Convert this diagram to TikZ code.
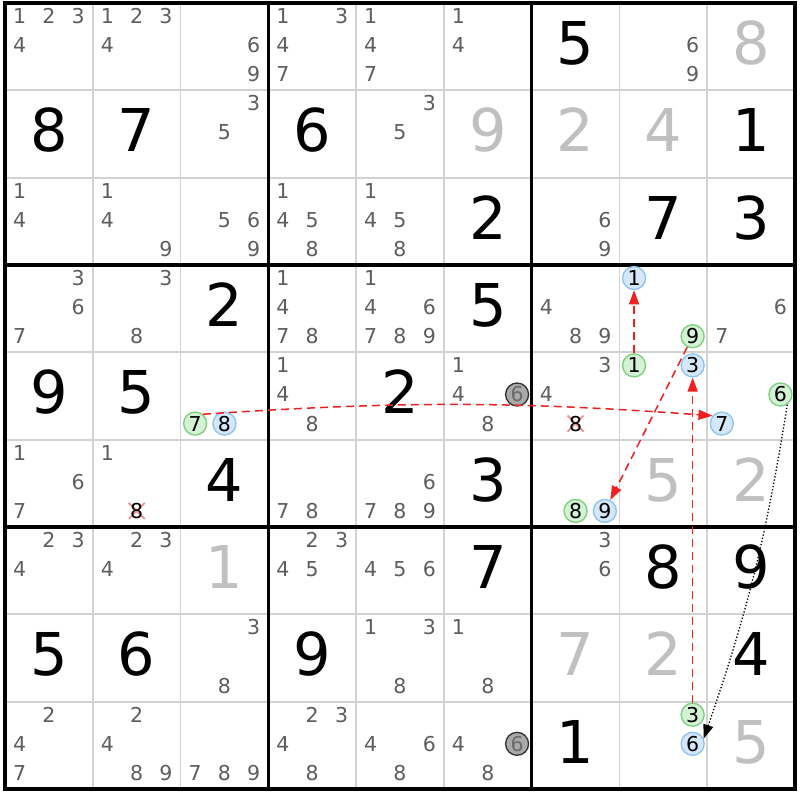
\documentclass[tikz,border=0pt]{standalone}
\usepackage{fontspec}
\setmainfont{DejaVu Sans}
\usetikzlibrary{arrows.meta}
\definecolor{candgray}{HTML}{5E5E5E}
\definecolor{solvedgray}{HTML}{C0C0C0}
\definecolor{gridthin}{HTML}{D2D2D2}
\definecolor{greenfill}{HTML}{D4F2D4}
\definecolor{greenline}{HTML}{80D080}
\definecolor{bluefill}{HTML}{D4E8FA}
\definecolor{blueline}{HTML}{90C4F4}
\definecolor{grayfill}{HTML}{A9A9A9}
\definecolor{grayline}{HTML}{303030}
\definecolor{graytext}{HTML}{6A6A6A}
\definecolor{arrred}{HTML}{F02020}
\definecolor{xred}{HTML}{F09090}
\newcommand\fsmall{\fontsize{20.5}{20.5}\selectfont}
\newcommand\fbig{\fontsize{59}{59}\selectfont}
\tikzset{
  cand/.style={font=\fsmall, text=candgray, inner sep=0pt, text height=14.9pt, text depth=0pt},
  candk/.style={cand, text=black},
  gcirc/.style={cand, text=black, circle, draw=greenline, fill=greenfill, line width=1.4pt, minimum size=23pt},
  bcirc/.style={cand, text=black, circle, draw=blueline, fill=bluefill, line width=1.4pt, minimum size=23pt},
  kcirc/.style={cand, text=graytext, circle, draw=grayline, fill=grayfill, line width=1.3pt, minimum size=23pt},
  given/.style={font=\fbig, text=black, inner sep=0pt, text height=43pt, text depth=0pt},
  solved/.style={given, text=solvedgray},
  thinline/.style={draw=gridthin, line width=1.8pt},
  thickline/.style={draw=black, line width=3.2pt},
  redarr/.style={draw=arrred, line width=1.5pt, dash pattern=on 8pt off 5pt, -{Triangle[length=14pt,width=10pt]}},
  dotarr/.style={draw=black, line width=1.3pt, dotted, -{Triangle[length=14pt,width=10pt]}},
  xmark/.style={draw=xred, line width=1.8pt},
}
\newcommand\putc[4][cand]{%
  \pgfmathsetmacro\px{5+(#3-0.5)*87.78+(mod(#4-1,3)-1)*29.3}%
  \pgfmathsetmacro\py{3+(#2-0.5)*87.33+(floor((#4-1)/3)-1)*29.1-1.5}%
  \node[#1] (n#2#3#4) at (\px,\py) {#4};}
\newcommand\cands[3]{\foreach \d in {#3}{\putc{#1}{#2}{\d}}}
\newcommand\putx[3]{%
  \pgfmathsetmacro\px{5+(#2-0.5)*87.78+(mod(#3-1,3)-1)*29.3}%
  \pgfmathsetmacro\py{3+(#1-0.5)*87.33+(floor((#3-1)/3)-1)*29.1-1.5}%
  \draw[xmark] (\px-8,\py-8) -- (\px+8,\py+8) (\px-8,\py+8) -- (\px+8,\py-8);
  \putc[candk]{#1}{#2}{#3}}
\newcommand\bigd[4][given]{%
  \pgfmathsetmacro\px{5+(#3-0.5)*87.78}%
  \pgfmathsetmacro\py{3+(#2-0.5)*87.33-3.5}%
  \node[#1] (b#2#3) at (\px,\py) {#4};}
\begin{document}
\begin{tikzpicture}[x=1pt,y=-1pt]
\fill[white] (0,0) rectangle (800,800);
\useasboundingbox (0,0) rectangle (800,800);
% grid
\foreach \i in {1,2,4,5,7,8} {
  \draw[thinline] (5+\i*87.78,3) -- (5+\i*87.78,789);
  \draw[thinline] (5,3+\i*87.33) -- (795,3+\i*87.33);
}
\foreach \i in {3,6} {
  \draw[thickline] (5+\i*87.78,3) -- (5+\i*87.78,789);
  \draw[thickline] (5,3+\i*87.33) -- (795,3+\i*87.33);
}
\draw[thickline] (5,3) rectangle (795,789);
% givens
\bigd{1}{7}{5}
\bigd{2}{1}{8} \bigd{2}{2}{7} \bigd{2}{4}{6} \bigd{2}{9}{1}
\bigd{3}{6}{2} \bigd{3}{8}{7} \bigd{3}{9}{3}
\bigd{4}{3}{2} \bigd{4}{6}{5}
\bigd{5}{1}{9} \bigd{5}{2}{5} \bigd{5}{5}{2}
\bigd{6}{3}{4} \bigd{6}{6}{3}
\bigd{7}{6}{7} \bigd{7}{8}{8} \bigd{7}{9}{9}
\bigd{8}{1}{5} \bigd{8}{2}{6} \bigd{8}{4}{9} \bigd{8}{9}{4}
\bigd{9}{7}{1}
% solved
\bigd[solved]{1}{9}{8} \bigd[solved]{2}{6}{9} \bigd[solved]{2}{7}{2} \bigd[solved]{2}{8}{4}
\bigd[solved]{6}{8}{5} \bigd[solved]{6}{9}{2} \bigd[solved]{7}{3}{1}
\bigd[solved]{8}{7}{7} \bigd[solved]{8}{8}{2} \bigd[solved]{9}{9}{5}
% candidates
\cands{1}{1}{1,2,3,4} \cands{1}{2}{1,2,3,4} \cands{1}{3}{6,9} \cands{1}{4}{1,3,4,7}
\cands{1}{5}{1,4,7} \cands{1}{6}{1,4} \cands{1}{8}{6,9}
\cands{2}{3}{3,5} \cands{2}{5}{3,5}
\cands{3}{1}{1,4} \cands{3}{2}{1,4,9} \cands{3}{3}{5,6,9} \cands{3}{4}{1,4,5,8}
\cands{3}{5}{1,4,5,8} \cands{3}{7}{6,9}
\cands{4}{1}{3,6,7} \cands{4}{2}{3,8} \cands{4}{4}{1,4,7,8} \cands{4}{5}{1,4,6,7,8,9}
\cands{4}{7}{4,8,9} \cands{4}{9}{6,7}
\cands{5}{4}{1,4,8} \cands{5}{6}{1,4,8} \cands{5}{7}{3,4}
\cands{6}{1}{1,6,7} \cands{6}{2}{1} \cands{6}{4}{7,8} \cands{6}{5}{6,7,8,9}
\cands{7}{1}{2,3,4} \cands{7}{2}{2,3,4} \cands{7}{4}{2,3,4,5} \cands{7}{5}{4,5,6} \cands{7}{7}{3,6}
\cands{8}{3}{3,8} \cands{8}{5}{1,3,8} \cands{8}{6}{1,8}
\cands{9}{1}{2,4,7} \cands{9}{2}{2,4,8,9} \cands{9}{3}{7,8,9} \cands{9}{4}{2,3,4,8}
\cands{9}{5}{4,6,8} \cands{9}{6}{4,8}
% eliminated candidates
\putx{5}{7}{8}
\putx{6}{2}{8}
% highlighted candidates
\putc[bcirc]{4}{8}{1} \putc[gcirc]{4}{8}{9}
\putc[gcirc]{5}{3}{7} \putc[bcirc]{5}{3}{8}
\putc[kcirc]{5}{6}{6}
\putc[gcirc]{5}{8}{1} \putc[bcirc]{5}{8}{3}
\putc[gcirc]{5}{9}{6} \putc[bcirc]{5}{9}{7}
\putc[gcirc]{6}{7}{8} \putc[bcirc]{6}{7}{9}
\putc[kcirc]{9}{6}{6}
\putc[gcirc]{9}{8}{3} \putc[bcirc]{9}{8}{6}
% links
\draw[redarr] (n581) -- (n481);
\draw[redarr] (n489) -- (n679);
\draw[redarr] (n983) -- (n583);
\draw[redarr] (n537.50) to[bend left=4] (n597.140);
\draw[dotarr] (n596.-56) to[bend left=5] (n986.25);
\end{tikzpicture}
\end{document}
